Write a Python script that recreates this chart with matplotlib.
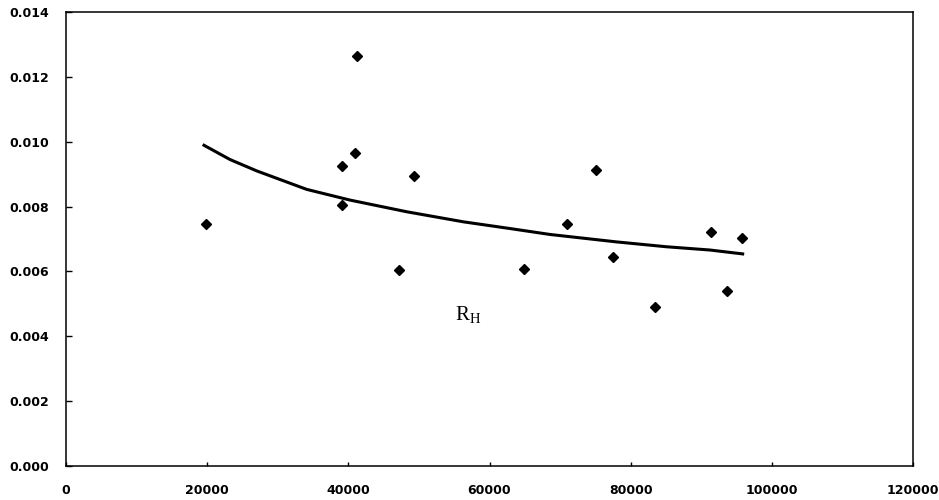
import matplotlib.pyplot as plt

# 측정점
x_data = [19800, 39100, 39150, 40900, 41200, 47200, 49300, 64900,
          71000, 75100, 77500, 83400, 91400, 93700, 95800]
y_data = [0.00745, 0.00924, 0.00805, 0.00964, 0.01263, 0.00605, 0.00894, 0.00609,
          0.00746, 0.00914, 0.00645, 0.00490, 0.00723, 0.00541, 0.00703]

# 추세 곡선
x_fit = [19550, 23240, 27020, 34100, 40240, 48270, 56290, 62670,
         68570, 78020, 85110, 91240, 95870]
y_fit = [0.00989, 0.00945, 0.00910, 0.00853, 0.00820, 0.00784, 0.00753, 0.00733,
         0.00714, 0.00691, 0.00676, 0.00666, 0.00654]

x_ticks = [0, 20000, 40000, 60000, 80000, 100000, 120000]
y_ticks = [0.000, 0.002, 0.004, 0.006, 0.008, 0.010, 0.012, 0.014]

fig = plt.figure(figsize=(9.39, 5.0), dpi=100)
ax = fig.add_axes([0.0703, 0.068, 0.902, 0.908])

ax.plot(x_fit, y_fit, color='black', linewidth=2.2)
ax.plot(x_data, y_data, linestyle='none', marker='D', markersize=5,
        color='black')

ax.set_xlim(0, 120000)
ax.set_ylim(0, 0.014)
ax.set_xticks(x_ticks)
ax.set_yticks(y_ticks)
ax.set_xticklabels([str(v) for v in x_ticks])
ax.set_yticklabels(['%.3f' % v for v in y_ticks])

for lab in ax.get_xticklabels() + ax.get_yticklabels():
    lab.set_fontfamily('DejaVu Sans')
    lab.set_fontweight('bold')
    lab.set_fontsize(9)

ax.tick_params(axis='y', direction='in', length=4, width=1, pad=12)
ax.tick_params(axis='x', direction='in', length=3, width=1, pad=13)
for sp in ax.spines.values():
    sp.set_linewidth(1.1)

ax.text(55100, 0.0045, r'R$_\mathregular{H}$', family='Liberation Serif',
        fontsize=15, color='black')

fig.savefig('out.png', dpi=100)
